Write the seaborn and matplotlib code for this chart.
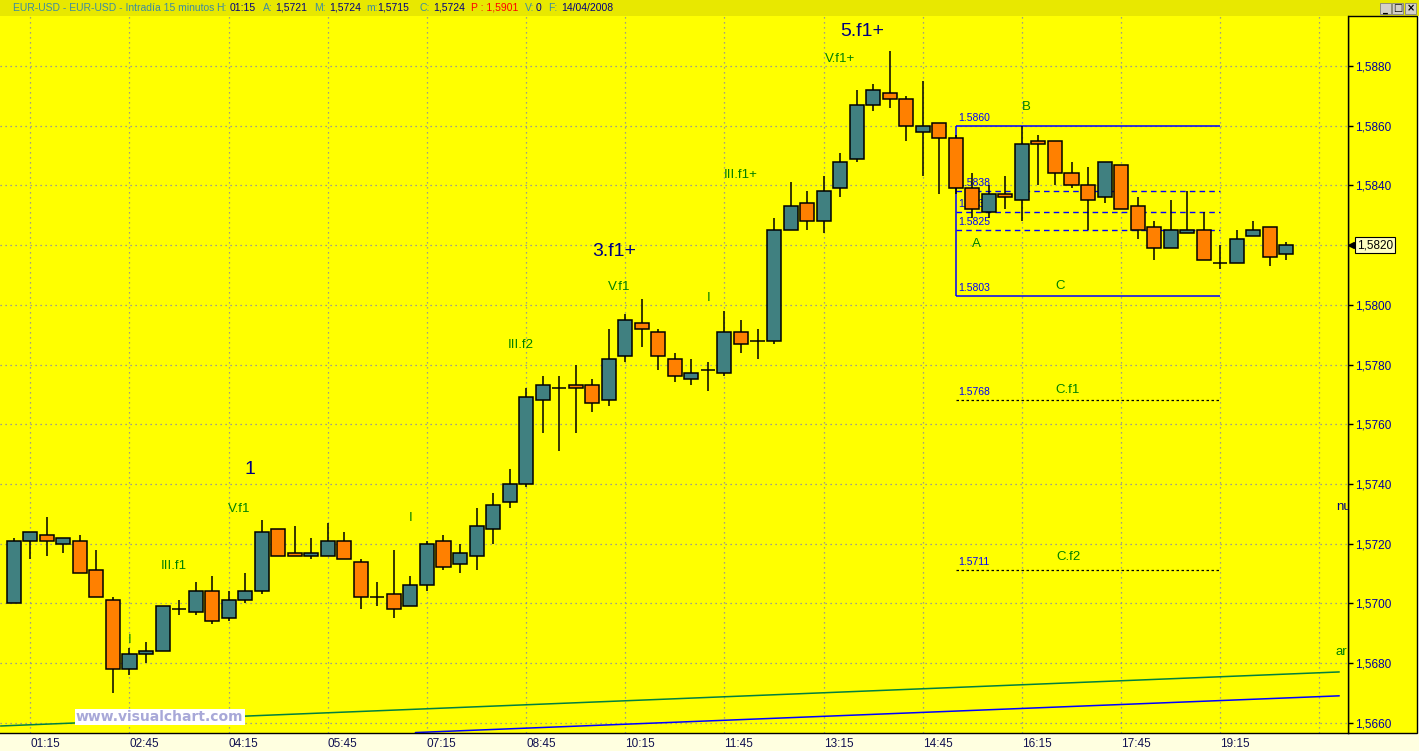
import matplotlib
matplotlib.use("Agg")
import matplotlib.pyplot as plt
from matplotlib.patches import Rectangle
import seaborn as sns
import pandas as pd

W, H = 1419, 751

# EUR-USD 15 minute bars, 14/04/2008
bar_time = pd.date_range("2008-04-14 01:00", periods=78, freq="15min").strftime("%H:%M")

open_ = [1.5700, 1.5721, 1.5723, 1.5720, 1.5721, 1.5711, 1.5701, 1.5678, 1.5683, 1.5684,
         1.5698, 1.5697, 1.5704, 1.5695, 1.5701, 1.5704, 1.5725, 1.5717, 1.5716, 1.5716,
         1.5721, 1.5714, 1.5702, 1.5703, 1.5699, 1.5706, 1.5721, 1.5713, 1.5716, 1.5725,
         1.5734, 1.5740, 1.5768, 1.5772, 1.5773, 1.5773, 1.5768, 1.5783, 1.5794, 1.5791,
         1.5782, 1.5775, 1.5778, 1.5777, 1.5791, 1.5788, 1.5788, 1.5825, 1.5834, 1.5828,
         1.5839, 1.5849, 1.5867, 1.5871, 1.5869, 1.5858, 1.5861, 1.5856, 1.5839, 1.5831,
         1.5837, 1.5835, 1.5855, 1.5855, 1.5844, 1.5840, 1.5836, 1.5847, 1.5833, 1.5826,
         1.5819, 1.5824, 1.5825, 1.5814, 1.5814, 1.5823, 1.5826, 1.5817]
high = [1.5722, 1.5724, 1.5729, 1.5722, 1.5723, 1.5718, 1.5702, 1.5685, 1.5687, 1.5699,
        1.5701, 1.5707, 1.5709, 1.5704, 1.5710, 1.5728, 1.5725, 1.5726, 1.5722, 1.5727,
        1.5724, 1.5715, 1.5707, 1.5718, 1.5709, 1.5721, 1.5723, 1.5720, 1.5732, 1.5737,
        1.5745, 1.5772, 1.5776, 1.5776, 1.5780, 1.5775, 1.5792, 1.5797, 1.5802, 1.5792,
        1.5784, 1.5782, 1.5781, 1.5798, 1.5795, 1.5792, 1.5829, 1.5841, 1.5838, 1.5843,
        1.5851, 1.5872, 1.5874, 1.5885, 1.5870, 1.5875, 1.5861, 1.5857, 1.5844, 1.5840,
        1.5843, 1.5860, 1.5857, 1.5855, 1.5848, 1.5846, 1.5848, 1.5847, 1.5836, 1.5828,
        1.5835, 1.5838, 1.5831, 1.5820, 1.5825, 1.5828, 1.5826, 1.5821]
low = [1.5700, 1.5715, 1.5716, 1.5717, 1.5710, 1.5702, 1.5670, 1.5676, 1.5680, 1.5684,
       1.5696, 1.5696, 1.5693, 1.5694, 1.5700, 1.5703, 1.5716, 1.5716, 1.5715, 1.5716,
       1.5715, 1.5698, 1.5699, 1.5695, 1.5699, 1.5704, 1.5711, 1.5710, 1.5711, 1.5720,
       1.5732, 1.5739, 1.5757, 1.5751, 1.5757, 1.5764, 1.5766, 1.5781, 1.5786, 1.5778,
       1.5774, 1.5773, 1.5771, 1.5776, 1.5784, 1.5782, 1.5787, 1.5825, 1.5825, 1.5824,
       1.5836, 1.5848, 1.5865, 1.5866, 1.5855, 1.5843, 1.5837, 1.5837, 1.5829, 1.5829,
       1.5832, 1.5828, 1.5840, 1.5840, 1.5839, 1.5825, 1.5834, 1.5832, 1.5822, 1.5815,
       1.5819, 1.5824, 1.5815, 1.5812, 1.5814, 1.5823, 1.5813, 1.5815]
close = [1.5721, 1.5724, 1.5721, 1.5722, 1.5710, 1.5702, 1.5678, 1.5683, 1.5684, 1.5699,
         1.5698, 1.5704, 1.5694, 1.5701, 1.5704, 1.5724, 1.5716, 1.5716, 1.5717, 1.5721,
         1.5715, 1.5702, 1.5702, 1.5698, 1.5706, 1.5720, 1.5712, 1.5717, 1.5726, 1.5733,
         1.5740, 1.5769, 1.5773, 1.5772, 1.5772, 1.5767, 1.5782, 1.5795, 1.5792, 1.5783,
         1.5776, 1.5777, 1.5778, 1.5791, 1.5787, 1.5788, 1.5825, 1.5833, 1.5828, 1.5838,
         1.5848, 1.5867, 1.5872, 1.5869, 1.5860, 1.5860, 1.5856, 1.5839, 1.5832, 1.5837,
         1.5836, 1.5854, 1.5854, 1.5844, 1.5840, 1.5835, 1.5848, 1.5832, 1.5825, 1.5819,
         1.5825, 1.5825, 1.5815, 1.5814, 1.5822, 1.5825, 1.5816, 1.5820]

time_ticks = ["01:15", "02:45", "04:15", "05:45", "07:15", "08:45", "10:15",
              "11:45", "13:15", "14:45", "16:15", "17:45", "19:15", "20:45"]
price_ticks = [1.5660, 1.5680, 1.5700, 1.5720, 1.5740, 1.5760, 1.5780,
               1.5800, 1.5820, 1.5840, 1.5860, 1.5880]

# ABC box and dashed levels (right part)
box_levels = [1.5860, 1.5803]
dash_levels = [1.5838, 1.5831, 1.5825]
target_levels = [1.5768, 1.5711]
box_start, box_end = 57, 73

# long trend lines near the bottom (bar index, price)
green_x, green_y = [-0.8, 80.2], [1.56589, 1.56770]
blue_x, blue_y = [24.3, 80.2], [1.56567, 1.56690]

df = pd.DataFrame({"time": bar_time, "open": open_, "high": high, "low": low, "close": close})
df["x"] = range(len(df))

TEAL, ORANGE = "#408080", "#FF8000"
NAVY, GREEN, BLUE = "#000080", "#008000", "#0000FF"

sns.set_style("white")
plt.rcParams["font.family"] = ["Liberation Sans", "DejaVu Sans"]

fig = plt.figure(figsize=(W / 100, H / 100), dpi=100, facecolor="#FFFFE0")


def fx(px):
    return px / W


def fy(py):
    return 1 - py / H


# header bar and right price-scale panel (behind the axes)
fig.patches.append(Rectangle((0, fy(16)), 1, 16 / H, transform=fig.transFigure,
                             fc="#E8E800", ec="none", zorder=-2))
fig.patches.append(Rectangle((fx(1348), fy(733)), fx(1417) - fx(1348), (733 - 16) / H,
                             transform=fig.transFigure, fc="#FFFF00", ec="black", lw=1, zorder=-2))

ax = fig.add_axes([0, 18 / H, 1348 / W, 717 / H])
ax.set_facecolor("#FFFF00")

# candles
up = df[df.close > df.open]
down = df[df.close < df.open]
flat = df[df.close == df.open]
ax.vlines(df.x, df.low, df.high, color="black", lw=1.1, zorder=3)
ax.bar(up.x, up.close - up.open, bottom=up.open, width=0.85, color=TEAL,
       edgecolor="black", linewidth=1.1, zorder=4)
ax.bar(down.x, down.open - down.close, bottom=down.close, width=0.85, color=ORANGE,
       edgecolor="black", linewidth=1.1, zorder=4)
ax.hlines(flat.open, flat.x - 0.43, flat.x + 0.43, color="black", lw=1.1, zorder=4)

# trend lines
sns.lineplot(x=green_x, y=green_y, color="#008040", lw=1.1, ax=ax, zorder=2)
sns.lineplot(x=blue_x, y=blue_y, color=BLUE, lw=1.1, ax=ax, zorder=2)

# ABC box
for lvl in box_levels:
    ax.hlines(lvl, box_start, box_end, color=BLUE, lw=1.1, zorder=2)
ax.vlines(box_start, box_levels[1], box_levels[0], color=BLUE, lw=1.1, zorder=2)
for lvl in dash_levels:
    ax.hlines(lvl, box_start, box_end, color=BLUE, lw=1.0, linestyles=(0, (4, 3)), zorder=2)
for lvl in target_levels:
    ax.hlines(lvl, box_start, box_end, color="black", lw=0.9, linestyles=(0, (2, 2)), zorder=2)
for lvl in box_levels + dash_levels + target_levels:
    ax.annotate(f"{lvl:.4f}", (box_start + 0.15, lvl), xytext=(0, 5.8), textcoords="offset points",
                ha="left", va="center", fontsize=7.5, color=BLUE, zorder=1)

# wave labels
big = [("1", 14.3, 1.57447), ("3.f1+", 36.32, 1.5818), ("5.f1+", 51.32, 1.58914)]
for t, x, y in big:
    ax.text(x, y, t, ha="center", va="center", fontsize=14, color=NAVY, zorder=5)
small = [("V.f1+", 49.98, 1.58822), ("III.f1+", 43.97, 1.58435), ("I", 42.07, 1.58023),
         ("V.f1", 36.65, 1.58061), ("III.f2", 30.69, 1.57864), ("I", 24.03, 1.57286),
         ("V.f1", 13.66, 1.57316), ("III.f1", 9.68, 1.57125), ("I", 7.03, 1.56877),
         ("B", 61.29, 1.58663), ("A", 58.22, 1.58204), ("C", 63.29, 1.58063),
         ("C.f1", 63.79, 1.57715), ("C.f2", 63.79, 1.57155)]
for t, x, y in small:
    ax.text(x, y, t, ha="center", va="center", fontsize=9.5, color=GREEN, zorder=5)
ax.text(80.0, 1.57323, "nu", ha="left", va="center", fontsize=9.5, color=NAVY, clip_on=True)
ax.text(80.0, 1.56837, "ar", ha="left", va="center", fontsize=9.5, color=GREEN, clip_on=True)

# axes
ax.set_xlim(-0.835, 80.73)
ax.set_ylim(1.565655, 1.589675)
minutes = [int(t[:2]) * 60 + int(t[3:]) for t in time_ticks]
tick_x = [(m - 60) / 15 for m in minutes]
ax.set_xticks(tick_x)
ax.set_xticklabels(time_ticks[:-1] + [""], ha="left")
ax.set_yticks(price_ticks)
ax.set_yticklabels(["" if abs(p - close[-1]) < 1e-6 else f"{p:.4f}".replace(".", ",")
                    for p in price_ticks])
ax.yaxis.tick_right()
ax.tick_params(axis="y", direction="out", length=3.5, width=1, color="black",
               labelcolor="#0000A0", labelsize=8.5, pad=1.5)
ax.tick_params(axis="x", direction="out", length=3.5, width=1, color="black",
               labelcolor="#101050", labelsize=8.5, pad=0.3)
ax.grid(True, color="#8080B0", linestyle=(0, (1, 3)), lw=0.9)
ax.set_axisbelow(True)
for s in ["left", "top"]:
    ax.spines[s].set_visible(False)
for s in ["right", "bottom"]:
    ax.spines[s].set_color("black")
    ax.spines[s].set_linewidth(1)

# last price marker
ax.plot(1.002, close[-1], marker="<", ms=4, color="black",
        transform=ax.get_yaxis_transform(), clip_on=False)
ax.text(1.0065, close[-1], f"{close[-1]:.4f}".replace(".", ","), transform=ax.get_yaxis_transform(),
        ha="left", va="center", fontsize=8.5, color="black", clip_on=False,
        bbox=dict(boxstyle="square,pad=0.15", fc="#FFFFC0", ec="black", lw=0.8))

# header text (values of the 01:15 bar)
teal_t, red_t = "#3C8CA0", "#FF0000"
b = df.iloc[1]
fmt = lambda v: f"{v:.4f}".replace(".", ",")
header = [("EUR-USD - EUR-USD - Intradía 15 minutos", teal_t, 13),
          ("H:", teal_t, 216.5), (b.time, NAVY, 230),
          ("A:", teal_t, 262.5), (fmt(b.open), NAVY, 275.4),
          ("M:", teal_t, 313.8), (fmt(b.high), NAVY, 329),
          ("m:", teal_t, 366), (fmt(b.low), NAVY, 377),
          ("C:", teal_t, 419.6), (fmt(b.close), NAVY, 433),
          ("P : 1,5901", red_t, 471),
          ("V:", teal_t, 524.6), ("0", NAVY, 535.7),
          ("F:", teal_t, 548), ("14/04/2008", NAVY, 561.6)]
for t, c, px in header:
    fig.text(fx(px), fy(8), t, ha="left", va="center", fontsize=7.5, color=c)

# window buttons
for px, sym in [(1380, "_"), (1392, "□"), (1405, "×")]:
    fig.patches.append(Rectangle((fx(px), fy(14)), 11 / W, 11 / H, transform=fig.transFigure,
                                 fc="#D4D0C8", ec="#808080", lw=0.6))
    fig.text(fx(px + 5.5), fy(8.5), sym, ha="center", va="center", fontsize=7,
             color="black", family="DejaVu Sans", weight="bold")

# watermark
fig.text(fx(76), fy(717), "www.visualchart.com", ha="left", va="center", fontsize=10,
         color="#A8A8D8", weight="bold", family="DejaVu Sans",
         bbox=dict(boxstyle="square,pad=0.1", fc="white", ec="none"))

fig.savefig("out.png", dpi=100, facecolor=fig.get_facecolor())
